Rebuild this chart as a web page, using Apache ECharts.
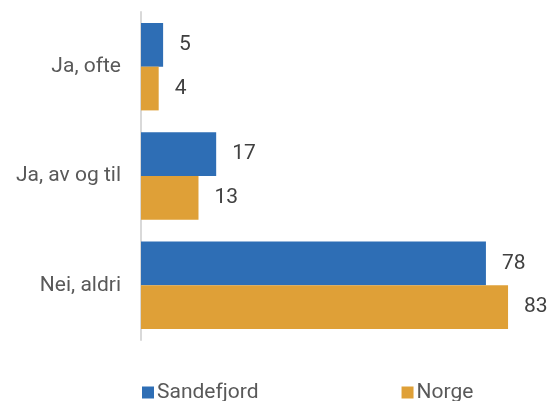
<!DOCTYPE html>
<html>
<head>
<meta charset="utf-8">
<script src="https://cdn.jsdelivr.net/npm/echarts@6/dist/echarts.min.js"></script>
<style>
  html, body { margin: 0; padding: 0; background: #fff; }
  #main { width: 549px; height: 401px; }
</style>
</head>
<body>
<div id="main"></div>
<script>
// data
var categories = ['Ja, ofte', 'Ja, av og til', 'Nei, aldri'];
var sandefjord = [5, 17, 78];
var norge = [4, 13, 83];

var font = 'Roboto';
var textColor = '#595959';

var myChart = echarts.init(document.getElementById('main'));

var labelStyle = {
  show: true,
  position: 'right',
  distance: 16,
  color: '#404040',
  fontFamily: font,
  fontSize: 21
};

var option = {
  animation: false,
  grid: { left: 141, right: 10, top: 12, bottom: 61 },
  legend: {
    data: ['Sandefjord', 'Norge'],
    left: 137,
    top: 377,
    icon: 'rect',
    itemWidth: 12,
    itemHeight: 12,
    itemGap: 143,
    textStyle: { color: textColor, fontFamily: font, fontSize: 21, padding: [0, 0, 0, -2] }
  },
  xAxis: {
    type: 'value',
    min: 0,
    max: 90,
    show: false
  },
  yAxis: {
    type: 'category',
    data: categories,
    inverse: true,
    axisLine: { show: true, lineStyle: { color: '#d9d9d9', width: 2 } },
    axisTick: { show: false },
    axisLabel: { color: textColor, fontFamily: font, fontSize: 21, margin: 20 }
  },
  series: [
    {
      name: 'Sandefjord',
      type: 'bar',
      data: sandefjord,
      barGap: '0%',
      barCategoryGap: '20%',
      itemStyle: { color: '#2E6EB5' },
      label: labelStyle
    },
    {
      name: 'Norge',
      type: 'bar',
      data: norge,
      itemStyle: { color: '#DFA037' },
      label: labelStyle
    }
  ]
};

myChart.setOption(option);
</script>
</body>
</html>
